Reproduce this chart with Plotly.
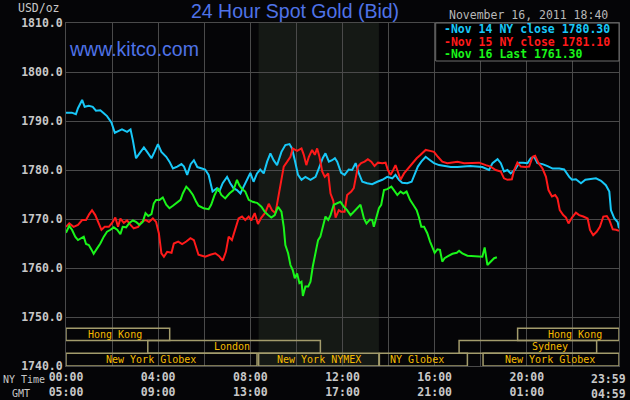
import plotly.graph_objects as go

# ---------------- data ----------------
cyan_h = [0.00,0.25,0.43,0.52,0.70,0.81,0.99,1.16,1.30,1.49,1.64,1.78,1.97,2.12,2.29,2.43,2.65,2.80,2.90,3.04,
          3.19,3.38,3.52,3.71,3.84,3.99,4.14,4.35,4.49,4.64,4.83,5.01,5.12,5.26,5.41,5.55,5.70,5.90,6.04,6.19,
          6.36,6.55,6.65,6.80,6.99,7.13,7.27,7.42,7.57,7.71,7.86,8.00,8.14,8.29,8.43,8.58,8.73,8.87,9.01,9.16,
          9.35,9.52,9.70,9.81,9.93,10.07,10.22,10.39,10.61,10.83,10.97,11.14,11.26,11.41,11.55,11.67,11.77,11.94,12.09,12.27,
          12.42,12.57,12.71,12.86,13.07,13.29,13.51,13.73,13.94,14.16,14.30,14.45,14.59,14.81,15.00,15.13,15.27,15.42,15.61,15.80,
          15.97,16.19,16.41,16.70,16.99,17.28,17.54,18.07,18.36,18.51,18.73,18.87,19.01,19.16,19.30,19.49,19.67,19.84,20.03,20.17,
          20.32,20.46,20.68,20.90,21.12,21.41,21.62,21.84,21.96,22.13,22.35,22.54,22.78,23.00,23.22,23.43,23.58,23.65,23.80,23.94,24.00]
cyan_v = [1791.7,1791.7,1791.4,1792.6,1794.3,1792.9,1793.1,1792.9,1792.1,1792.2,1791.6,1791.0,1789.7,1787.6,1788.0,1788.3,1787.8,1788.3,1786.1,1782.4,
          1783.4,1784.6,1783.7,1782.4,1783.7,1785.3,1783.7,1782.7,1781.7,1780.3,1780.7,1781.2,1780.7,1779.0,1781.2,1782.0,1780.6,1780.3,1780.1,1779.0,
          1775.6,1776.3,1775.6,1777.3,1778.6,1777.3,1776.3,1775.9,1775.2,1776.6,1778.0,1779.4,1777.6,1779.3,1780.1,1779.3,1781.7,1783.4,1782.0,1781.0,
          1783.7,1785.1,1785.3,1784.4,1782.0,1779.0,1778.0,1778.6,1778.0,1778.6,1780.3,1782.4,1783.4,1781.7,1782.0,1782.4,1781.7,1779.4,1779.0,1780.1,
          1780.0,1781.4,1779.3,1777.6,1777.3,1777.1,1777.6,1778.0,1778.6,1778.3,1779.0,1778.0,1777.4,1777.3,1777.6,1779.0,1780.7,1781.7,1782.7,1782.0,
          1781.4,1781.0,1780.8,1780.6,1780.6,1780.7,1780.8,1780.6,1780.0,1781.4,1782.2,1781.4,1779.7,1780.0,1779.3,1780.1,1781.5,1781.5,1781.4,1782.4,
          1782.7,1781.4,1781.2,1780.8,1780.3,1780.3,1780.1,1778.6,1778.0,1778.1,1777.3,1778.0,1778.1,1778.3,1777.8,1776.9,1775.6,1771.8,1770.1,1769.4,1768.1]

red_h = [0.00,0.14,0.33,0.52,0.70,0.87,1.01,1.13,1.27,1.42,1.54,1.68,1.86,2.00,2.14,2.26,2.36,2.51,2.65,2.80,
         2.94,3.13,3.27,3.45,3.60,3.77,3.91,4.03,4.14,4.25,4.39,4.58,4.68,4.87,5.04,5.22,5.40,5.55,5.70,5.75,
         5.90,6.04,6.26,6.48,6.65,6.80,6.94,7.06,7.20,7.35,7.49,7.64,7.78,7.93,8.04,8.19,8.33,8.48,8.65,8.80,
         8.94,9.09,9.23,9.35,9.45,9.60,9.74,9.84,10.03,10.22,10.32,10.43,10.54,10.68,10.80,10.90,11.00,11.12,11.23,11.38,
         11.48,11.60,11.70,11.84,11.94,12.09,12.20,12.38,12.49,12.57,12.67,12.81,12.96,13.10,13.25,13.39,13.54,13.73,13.87,13.97,
         14.09,14.20,14.30,14.40,14.52,14.67,14.84,15.03,15.22,15.39,15.61,15.80,15.97,16.14,16.33,16.55,16.77,16.99,17.28,17.54,
         17.93,18.22,18.43,18.65,18.87,19.01,19.16,19.35,19.45,19.59,19.74,19.93,20.10,20.25,20.36,20.51,20.68,20.83,20.94,21.09,
         21.23,21.33,21.43,21.58,21.70,21.81,21.96,22.13,22.27,22.45,22.64,22.74,22.88,23.03,23.17,23.32,23.47,23.58,23.73,23.87,24.00]
red_v = [1768.4,1769.1,1768.4,1768.8,1769.8,1769.8,1771.0,1771.8,1770.8,1769.2,1767.8,1768.4,1768.4,1769.2,1770.3,1768.4,1770.1,1769.2,1769.7,1768.8,
         1768.1,1768.4,1769.4,1769.8,1769.4,1770.1,1769.4,1767.1,1763.0,1762.3,1763.3,1763.1,1765.0,1765.4,1764.9,1765.4,1766.1,1765.7,1763.7,1762.7,
         1762.5,1762.3,1762.7,1763.0,1762.4,1761.5,1763.3,1766.4,1765.7,1768.1,1770.1,1770.5,1769.8,1770.5,1769.7,1771.2,1769.0,1770.3,1771.3,1773.1,
         1771.8,1771.2,1774.9,1778.0,1780.7,1781.7,1782.7,1784.4,1783.9,1784.4,1783.1,1781.0,1782.7,1784.1,1783.1,1784.4,1782.7,1779.7,1778.6,1779.3,
         1775.2,1773.7,1770.3,1771.8,1771.5,1771.5,1774.9,1775.6,1776.3,1778.3,1780.7,1781.4,1781.7,1782.2,1781.7,1780.8,1781.5,1781.4,1781.5,1780.0,
         1779.0,1780.0,1781.0,1779.7,1778.0,1779.3,1780.3,1781.4,1782.4,1783.1,1784.1,1783.9,1783.7,1782.7,1781.7,1781.4,1781.5,1781.7,1781.4,1781.4,
         1781.5,1781.0,1780.7,1780.0,1779.7,1778.3,1778.0,1778.1,1780.0,1781.5,1780.7,1780.6,1780.7,1782.7,1782.9,1781.4,1780.3,1778.6,1775.9,1774.6,
         1774.9,1774.2,1771.8,1770.8,1770.3,1769.1,1770.3,1771.3,1770.8,1770.5,1770.1,1767.8,1766.7,1767.4,1768.4,1770.5,1770.6,1769.8,1767.9,1767.8,1767.6]

green_h = [0.00,0.14,0.26,0.40,0.52,0.67,0.77,0.87,0.99,1.10,1.20,1.35,1.49,1.64,1.78,1.93,2.07,2.22,2.36,2.46,
           2.61,2.75,2.90,3.04,3.19,3.33,3.45,3.57,3.71,3.81,3.91,4.06,4.20,4.35,4.49,4.64,4.78,4.97,5.07,5.22,
           5.36,5.51,5.65,5.75,5.97,6.19,6.30,6.45,6.60,6.74,6.91,7.09,7.27,7.42,7.52,7.64,7.78,7.93,8.10,8.29,
           8.48,8.62,8.77,8.91,9.06,9.20,9.35,9.45,9.52,9.64,9.74,9.84,9.93,10.03,10.13,10.22,10.28,10.39,10.51,10.61,
           10.71,10.83,10.94,11.04,11.14,11.26,11.38,11.48,11.62,11.77,11.91,12.06,12.20,12.35,12.49,12.64,12.78,12.93,13.04,13.19,
           13.29,13.36,13.48,13.58,13.68,13.80,13.94,14.12,14.23,14.38,14.52,14.64,14.78,14.93,15.07,15.22,15.32,15.42,15.54,15.68,
           15.80,15.90,16.00,16.12,16.23,16.33,16.43,16.58,16.77,16.96,17.06,17.20,17.42,18.07,18.17,18.29,18.43,18.58,18.70]
green_v = [1767.2,1768.6,1767.8,1766.4,1765.7,1766.1,1766.4,1764.9,1764.7,1763.8,1762.9,1764.0,1765.0,1766.4,1767.4,1767.8,1768.3,1767.8,1766.9,1768.4,
           1768.3,1769.2,1769.7,1769.4,1768.8,1769.4,1771.2,1770.6,1771.0,1773.2,1773.9,1773.9,1774.4,1772.9,1772.2,1772.7,1773.2,1773.9,1775.2,1776.6,
           1775.9,1774.9,1773.5,1772.7,1772.2,1772.0,1772.9,1774.9,1776.3,1774.9,1774.2,1775.2,1775.9,1778.0,1776.9,1776.1,1775.6,1773.9,1773.5,1773.3,
           1772.5,1771.5,1770.8,1770.3,1770.8,1772.5,1771.5,1768.4,1764.7,1763.0,1760.6,1759.6,1757.9,1758.9,1756.9,1757.2,1754.3,1756.2,1756.2,1757.2,
           1760.3,1763.0,1765.7,1766.4,1768.4,1770.5,1769.8,1770.8,1772.9,1773.3,1773.5,1772.5,1771.8,1770.8,1771.5,1772.2,1772.9,1770.1,1769.1,1769.9,
           1769.8,1768.4,1770.5,1772.2,1772.9,1775.9,1776.1,1776.6,1775.9,1774.9,1775.6,1775.2,1775.6,1773.9,1772.9,1771.8,1770.3,1768.4,1768.4,1767.1,
           1765.4,1764.4,1763.1,1763.8,1763.7,1761.3,1762.0,1762.4,1762.9,1763.1,1763.5,1763.0,1762.5,1762.3,1764.2,1760.6,1761.3,1762.0,1762.2]

series_names = ["Nov 14 NY close 1780.30", "Nov 15 NY close 1781.10", "Nov 16 Last 1761.30"]
series_colors = ["#18c8f8", "#ff1a1a", "#1af51a"]

y_ticks = [1740, 1750, 1760, 1770, 1780, 1790, 1800, 1810]
x_grid = [2, 4, 6, 8, 10, 12, 14, 16, 18, 20, 22]
x_label_pos = [0, 4, 8, 12, 16, 20]
ny_labels = ["00:00", "04:00", "08:00", "12:00", "16:00", "20:00", "23:59"]
gmt_labels = ["05:00", "09:00", "13:00", "17:00", "21:00", "01:00", "04:59"]

session_names = ["Hong Kong", "London", "New York Globex", "New York NYMEX", "NY Globex",
                 "Sydney", "Hong Kong", "New York Globex"]
session_start = [0.0, 3.55, 0.0, 8.36, 13.6, 17.06, 19.6, 18.1]
session_end = [4.5, 11.04, 8.29, 13.58, 17.42, 23.03, 24.0, 24.0]
session_row = [0, 1, 2, 2, 2, 1, 0, 2]

# ---------------- layout helpers ----------------
L, R, T, B = 66, 11, 23, 34
W, H = 630, 400
PW, PH = W - L - R, H - T - B


def px_x(p):
    return (p - L) / PW


def px_y(p):
    return (H - B - p) / PH


BG = "#050507"
GRID = "#4a4a4a"
MONO = "DejaVu Sans Mono"

fig = go.Figure()
for hs, vs, name, col in zip([cyan_h, red_h, green_h], [cyan_v, red_v, green_v], series_names, series_colors):
    fig.add_trace(go.Scatter(x=hs, y=vs, mode="lines", name=name,
                             line=dict(color=col, width=2), showlegend=False, hoverinfo="skip"))

shapes = []
# NYMEX shaded region
shapes.append(dict(type="rect", xref="x", yref="paper", x0=session_start[3], x1=session_end[3], y0=0, y1=1,
                   fillcolor="#151915", line=dict(width=0), layer="below"))

# session boxes
row_bounds = [(1745.2, 1747.7), (1742.6, 1745.2), (1740.0, 1742.6)]
label_x = [2.13, 7.19, 3.67, 11.0, 15.23, 21.02, 22.1, 21.01]
annotations = []
for name, s, e, r, lx in zip(session_names, session_start, session_end, session_row, label_x):
    y0, y1 = row_bounds[r]
    shapes.append(dict(type="rect", xref="x", yref="y", x0=s, x1=e, y0=y0, y1=y1,
                       line=dict(color="#a39c6c", width=1.5), fillcolor="rgba(0,0,0,0)", layer="above"))
    annotations.append(dict(xref="x", yref="y", x=lx, y=(y0 + y1) / 2, text=name, showarrow=False,
                            xanchor="center", yanchor="middle",
                            font=dict(family=MONO, size=10, color="#f6bb00")))

# legend box
shapes.append(dict(type="rect", xref="paper", yref="paper", x0=px_x(435.7), x1=1, y0=px_y(61), y1=1,
                   fillcolor="#000000", line=dict(color="#6e6e6e", width=1), layer="above"))
for i, (name, col) in enumerate(zip(series_names, series_colors)):
    annotations.append(dict(xref="paper", yref="paper", x=px_x(441.5), y=px_y([29.5, 41.5, 53.5][i]),
                            text="<b>-" + name + "</b>", showarrow=False, xanchor="left", yanchor="middle",
                            font=dict(family=MONO, size=11.5, color=col)))

last_x = (608 - L) / PW * 24
# texts
annotations += [
    dict(xref="paper", yref="paper", x=px_x(294.5), y=px_y(11), text="24 Hour Spot Gold (Bid)",
         showarrow=False, xanchor="center", yanchor="middle",
         font=dict(family="Liberation Sans", size=19.5, color="#4f73e8")),
    dict(xref="paper", yref="paper", x=px_x(67), y=px_y(49), text="www.kitco.com",
         showarrow=False, xanchor="left", yanchor="middle",
         font=dict(family="Liberation Sans", size=19.5, color="#4f73e8")),
    dict(xref="paper", yref="paper", x=px_x(528), y=px_y(15), text="November 16, 2011 18:40",
         showarrow=False, xanchor="center", yanchor="middle",
         font=dict(family=MONO, size=11.5, color="#b8b8b8")),
    dict(xref="paper", yref="paper", x=px_x(62), y=px_y(8), text="USD/oz",
         showarrow=False, xanchor="right", yanchor="middle",
         font=dict(family=MONO, size=11.5, color="#c8c8c8")),
    dict(xref="paper", yref="paper", x=px_x(24), y=px_y(379), text="NY Time",
         showarrow=False, xanchor="center", yanchor="middle",
         font=dict(family=MONO, size=10, color="#c8c8c8")),
    dict(xref="paper", yref="paper", x=px_x(20.5), y=px_y(393), text="GMT",
         showarrow=False, xanchor="center", yanchor="middle",
         font=dict(family=MONO, size=10, color="#c8c8c8")),
    dict(xref="x", yref="paper", x=last_x, y=px_y(379), text="<b>" + ny_labels[-1] + "</b>",
         showarrow=False, xanchor="center", yanchor="middle",
         font=dict(family=MONO, size=11.5, color="#c8c8c8")),
    dict(xref="x", yref="paper", x=last_x, y=px_y(394), text="<b>" + gmt_labels[-1] + "</b>",
         showarrow=False, xanchor="center", yanchor="middle",
         font=dict(family=MONO, size=11.5, color="#c8c8c8")),
]

tick_text = {v: "" for v in x_grid}
for v, a, b in zip(x_label_pos, ny_labels[:-1], gmt_labels[:-1]):
    tick_text[v] = a + "<br>" + b
tvals = sorted(set([0] + x_grid))

fig.update_layout(
    width=W, height=H, margin=dict(l=L, r=R, t=T, b=B, autoexpand=False),
    paper_bgcolor=BG, plot_bgcolor=BG,
    shapes=shapes, annotations=annotations,
    xaxis=dict(range=[0, 24], tickvals=tvals, ticktext=[tick_text[v] for v in tvals],
               showgrid=True, gridcolor=GRID, gridwidth=1, zeroline=False, ticks="",
               showline=True, linecolor=GRID, linewidth=1, mirror=True, automargin=False,
               tickfont=dict(family=MONO, size=11.5, color="#c8c8c8", weight="bold")),
    yaxis=dict(range=[1740, 1810], tickvals=y_ticks, ticktext=[f"{v:.1f}" for v in y_ticks],
               showgrid=True, gridcolor=GRID, gridwidth=1, zeroline=False, ticks="",
               showline=True, linecolor=GRID, linewidth=1, mirror=True, automargin=False,
               tickfont=dict(family=MONO, size=11.5, color="#c8c8c8", weight="bold")),
)

fig.write_html("out.html", config={"displayModeBar": False},
               post_script="document.body.style.margin='0';document.body.style.padding='0';"
                           "document.body.style.background='" + BG + "';")
